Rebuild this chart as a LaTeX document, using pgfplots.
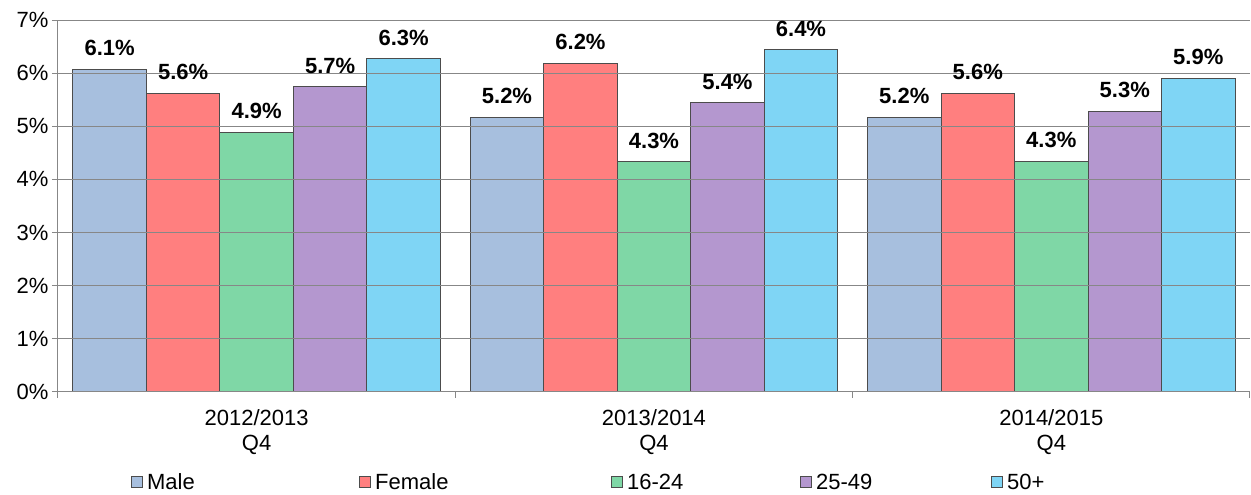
\documentclass[border=0pt]{standalone}
\usepackage{fontspec}
\setmainfont{Liberation Sans}
\usepackage{pgfplots}
\pgfplotsset{compat=1.18}
\definecolor{cmale}{HTML}{A7BFDE}
\definecolor{cfemale}{HTML}{FF7F7F}
\definecolor{cyoung}{HTML}{7FD7A6}
\definecolor{cmid}{HTML}{B497CF}
\definecolor{cold}{HTML}{7FD5F5}
\definecolor{gridgray}{HTML}{878787}

\begin{document}
\begin{tikzpicture}
\begin{axis}[
  at={(0pt,0pt)}, anchor=south west,
  scale only axis, width=1192pt, height=372pt,
  ybar=0pt, bar width=73.5pt,
  xmin=-0.5, xmax=2.5, ymin=0, ymax=7,
  xtick={-0.5,0.5,1.5,2.5}, xticklabels={},
  extra x ticks={0,1,2},
  extra x tick labels={{2012/2013\\Q4},{2013/2014\\Q4},{2014/2015\\Q4}},
  extra x tick style={major tick length=0pt, grid=none},
  ytick={0,1,...,7},
  yticklabel={\pgfmathprintnumber{\tick}\%},
  /pgf/number format/assume math mode=true,
  ymajorgrids, grid style={draw=gridgray, line width=1pt},
  axis x line*=bottom, axis y line*=left,
  axis line style={draw=gridgray, line width=1pt, -},
  tick align=outside, major tick length=6pt,
  tick style={draw=gridgray, line width=1pt},
  axis on top,
  x tick label style={align=center, font=\fontsize{22}{25}\selectfont, yshift=-14pt},
  y tick label style={font=\fontsize{22}{25}\selectfont},
  every axis plot/.append style={draw=black!70, line width=1pt},
  nodes near coords={\pgfmathprintnumber[fixed,fixed zerofill,precision=1]{\pgfplotspointmeta}\%},
  every node near coord/.append style={font=\bfseries\fontsize{22}{25}\selectfont,
    anchor=south, inner sep=0pt, yshift=13pt, text=black},
  legend image code/.code={\draw[#1] (0pt,-5.5pt) rectangle (11pt,5.5pt);},
  legend columns=5,
  legend style={draw=none, fill=none, inner sep=0pt,
    at={(axis description cs:0.0612,-0.243)}, anchor=west,
    font=\fontsize{22}{25}\selectfont,
    nodes={inner sep=0pt},
    /tikz/every odd column/.style={column sep=4pt},
    /tikz/every even column/.style={column sep=0pt}},
  legend cell align=left,
]
\addplot[fill=cmale] coordinates {(0,6.07) (1,5.17) (2,5.17)};
\addplot[fill=cfemale] coordinates {(0,5.62) (1,6.18) (2,5.62)};
\addplot[fill=cyoung] coordinates {(0,4.89) (1,4.33) (2,4.34)};
\addplot[fill=cmid] coordinates {(0,5.74) (1,5.44) (2,5.28)};
\addplot[fill=cold] coordinates {(0,6.27) (1,6.44) (2,5.90)};
\addlegendentry{\makebox[212pt][l]{Male}}
\addlegendentry{\makebox[236pt][l]{Female}}
\addlegendentry{\makebox[173pt][l]{16-24}}
\addlegendentry{\makebox[175pt][l]{25-49}}
\addlegendentry{50+}
\end{axis}
\pgfresetboundingbox
\useasboundingbox (-58pt,-103pt) rectangle (1193pt,392pt);
\end{tikzpicture}
\end{document}
